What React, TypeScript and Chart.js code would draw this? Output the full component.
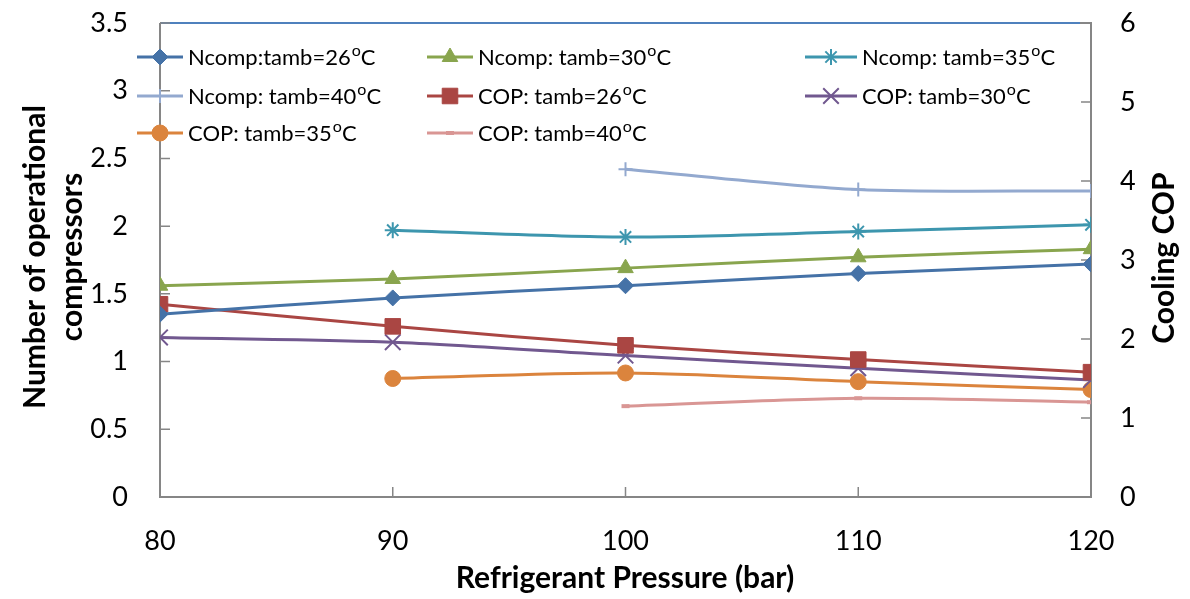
import React, { useEffect, useRef } from "react";
import { Chart, registerables } from "chart.js";
import { drawPoint } from "chart.js/helpers";

Chart.register(...registerables);

const pressures = [80, 90, 100, 110, 120];
const ncomp26 = [1.35, 1.47, 1.56, 1.65, 1.72];
const ncomp30 = [1.56, 1.61, 1.69, 1.77, 1.83];
const ncomp35 = [null, 1.97, 1.92, 1.96, 2.01];
const ncomp40 = [null, null, 2.42, 2.27, 2.26];
const cop26 = [2.44, 2.16, 1.92, 1.74, 1.58];
const cop30 = [2.02, 1.96, 1.79, 1.63, 1.48];
const cop35 = [null, 1.5, 1.57, 1.46, 1.36];
const cop40 = [null, null, 1.15, 1.25, 1.2];

const seriesNames = [
  "Ncomp:tamb=26",
  "Ncomp: tamb=30",
  "Ncomp: tamb=35",
  "Ncomp: tamb=40",
  "COP: tamb=26",
  "COP: tamb=30",
  "COP: tamb=35",
  "COP: tamb=40",
];
const leftTickLabels = ["0", "0.5", "1", "1.5", "2", "2.5", "3", "3.5"];
const rightTickLabels = ["0", "1", "2", "3", "4", "5", "6"];
const xTickLabels = ["80", "90", "100", "110", "120"];
const leftTitle = ["Number of operational", "compressors"];
const rightTitle = "Cooling COP";
const xTitle = "Refrigerant Pressure (bar)";

const FONT = "Lato, 'Open Sans', sans-serif";
const GRAY = "#868686";

const toPts = (arr: (number | null)[]) =>
  pressures.map((p, i) => ({ x: p, y: arr[i] }));

const frameAndLegend = {
  id: "frameAndLegend",
  beforeDatasetsDraw(chart: any) {
    const { ctx, chartArea: ca, scales } = chart;
    ctx.save();
    ctx.strokeStyle = GRAY;
    ctx.lineWidth = 2;
    ctx.beginPath();
    ctx.moveTo(ca.left, ca.top);
    ctx.lineTo(ca.left, ca.bottom);
    ctx.lineTo(ca.right, ca.bottom);
    ctx.lineTo(ca.right, ca.top);
    ctx.lineTo(ca.left, ca.top);
    ctx.stroke();
    ctx.strokeStyle = "#4f81bd";
    ctx.beginPath();
    ctx.moveTo(ca.left + 1, ca.top);
    ctx.lineTo(ca.right - 11, ca.top);
    ctx.stroke();
    ctx.strokeStyle = GRAY;
    ctx.lineWidth = 1.5;
    ctx.beginPath();
    scales.y.ticks.forEach((t: any) => {
      const py = scales.y.getPixelForValue(t.value);
      ctx.moveTo(ca.left, py);
      ctx.lineTo(ca.left + 10, py);
    });
    scales.y1.ticks.forEach((t: any) => {
      const py = scales.y1.getPixelForValue(t.value);
      ctx.moveTo(ca.right, py);
      ctx.lineTo(ca.right - 10, py);
    });
    scales.x.ticks.forEach((t: any) => {
      const px = scales.x.getPixelForValue(t.value);
      ctx.moveTo(px, ca.bottom);
      ctx.lineTo(px, ca.bottom - 10);
    });
    ctx.stroke();
    ctx.restore();
  },
  afterDraw(chart: any) {
    const { ctx } = chart;
    ctx.save();
    ctx.fillStyle = "#000";
    ctx.font = `bold 30px ${FONT}`;
    ctx.textAlign = "center";
    ctx.textBaseline = "middle";
    ctx.save();
    ctx.translate(35, 257);
    ctx.rotate(-Math.PI / 2);
    ctx.fillText(leftTitle[0], 0, 0);
    ctx.restore();
    ctx.save();
    ctx.translate(72, 257);
    ctx.rotate(-Math.PI / 2);
    ctx.fillText(leftTitle[1], 0, 0);
    ctx.restore();
    ctx.save();
    ctx.translate(1164, 258);
    ctx.rotate(-Math.PI / 2);
    ctx.fillText(rightTitle, 0, 0);
    ctx.restore();
    ctx.fillText(xTitle, 625, 578);

    const cols = [
      { lx: 137, tx: 188 },
      { lx: 427, tx: 478 },
      { lx: 805, tx: 862 },
    ];
    const rows = [57, 96, 133];
    chart.data.datasets.forEach((ds: any, i: number) => {
      const c = cols[i % 3];
      const y = rows[Math.floor(i / 3)];
      const lw = c.tx - 5 - c.lx;
      ctx.strokeStyle = ds.borderColor;
      ctx.lineWidth = ds.borderWidth;
      ctx.beginPath();
      ctx.moveTo(c.lx, y);
      ctx.lineTo(c.lx + lw, y);
      ctx.stroke();
      ctx.fillStyle = ds.pointBackgroundColor;
      ctx.strokeStyle = ds.pointBorderColor;
      ctx.lineWidth = ds.pointBorderWidth;
      drawPoint(ctx, { pointStyle: ds.pointStyle, radius: ds.pointRadius, rotation: 0, borderWidth: ds.pointBorderWidth }, c.lx + lw / 2, y);
      ctx.fillStyle = "#000";
      ctx.textAlign = "left";
      ctx.textBaseline = "middle";
      ctx.font = `22px ${FONT}`;
      const base = seriesNames[i];
      ctx.fillText(base, c.tx, y + 1);
      let x = c.tx + ctx.measureText(base).width;
      ctx.font = `16px ${FONT}`;
      ctx.fillText("o", x + 1, y - 6);
      x += ctx.measureText("o").width + 1;
      ctx.font = `22px ${FONT}`;
      ctx.fillText("C", x, y + 1);
    });
    ctx.restore();
  },
};

function mk(label: string, data: any[], color: string, style: string, radius: number, axis: string, pbw = 1) {
  return {
    label,
    data: toPts(data),
    yAxisID: axis,
    borderColor: color,
    backgroundColor: color,
    borderWidth: 3,
    pointStyle: style,
    pointRadius: radius,
    pointBackgroundColor: color,
    pointBorderColor: color,
    pointBorderWidth: pbw,
    tension: 0.3,
    fill: false,
  };
}

export default function App() {
  const ref = useRef<HTMLCanvasElement>(null);
  useEffect(() => {
    document.body.style.margin = "0";
    const datasets = [
      mk("n26", ncomp26, "#4572a7", "rectRot", 8, "y"),
      mk("n30", ncomp30, "#89a54e", "triangle", 9, "y"),
      mk("n35", ncomp35, "#3d96ae", "star", 8, "y", 2),
      mk("n40", ncomp40, "#93a9cf", "cross", 7, "y", 2),
      mk("c26", cop26, "#aa4643", "rect", 11, "y1"),
      mk("c30", cop30, "#71588f", "crossRot", 11, "y1", 2),
      mk("c35", cop35, "#db843d", "circle", 8, "y1"),
      mk("c40", cop40, "#d99694", "line", 4, "y1", 4),
    ];
    const chart = new Chart(ref.current!, {
      type: "line",
      data: { datasets } as any,
      options: {
        animation: false,
        responsive: false,
        layout: { padding: { top: 23, left: 0, right: 0, bottom: 0 } },
        plugins: { legend: { display: false }, tooltip: { enabled: false } },
        scales: {
          x: {
            type: "linear",
            min: 80,
            max: 120,
            grid: { display: false, drawTicks: false },
            border: { display: false },
            ticks: {
              stepSize: 10,
              padding: 28,
              color: "#000",
              font: { family: FONT, size: 27 },
              callback: (_v: any, i: number) => xTickLabels[i],
            },
            afterFit: (s: any) => {
              s.height = 102;
            },
          },
          y: {
            position: "left",
            min: 0,
            max: 3.5,
            grid: { display: false, drawTicks: true, tickLength: 32 },
            border: { display: false },
            ticks: {
              stepSize: 0.5,
              padding: 0,
              color: "#000",
              font: { family: FONT, size: 27 },
              callback: (_v: any, i: number) => leftTickLabels[i],
            },
            afterFit: (s: any) => {
              s.width = 160;
            },
          },
          y1: {
            position: "right",
            min: 0,
            max: 6,
            grid: { display: false, drawTicks: true, tickLength: 29 },
            border: { display: false },
            ticks: {
              stepSize: 1,
              padding: 0,
              color: "#000",
              font: { family: FONT, size: 27 },
              callback: (_v: any, i: number) => rightTickLabels[i],
            },
            afterFit: (s: any) => {
              s.width = 99;
            },
          },
        },
      } as any,
      plugins: [frameAndLegend],
    });
    return () => chart.destroy();
  }, []);
  return (
    <div style={{ width: 1190, height: 599 }}>
      <canvas ref={ref} width={1190} height={599} style={{ display: "block" }} />
    </div>
  );
}
